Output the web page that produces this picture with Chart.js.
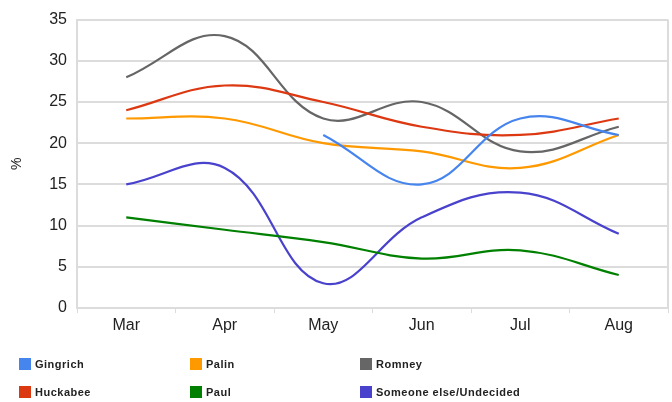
<!DOCTYPE html>
<html>
<head>
<meta charset="utf-8">
<script src="https://cdn.jsdelivr.net/npm/chart.js@4/dist/chart.umd.min.js"></script>
<style>
  html,body{margin:0;padding:0;background:#fff;}
  #wrap{position:relative;width:672px;height:402px;}
  canvas{position:absolute;left:0;top:0;}
  .lg{position:absolute;font-family:"Liberation Sans",Arial,sans-serif;font-size:11px;font-weight:bold;letter-spacing:0.5px;color:#222;white-space:nowrap;line-height:13px;}
  .lg span.sw{display:inline-block;width:12px;height:12px;vertical-align:top;margin-right:4px;}
</style>
</head>
<body>
<div id="wrap">
<canvas id="c" width="672" height="402"></canvas>
</div>
<script>
const months = ["Mar", "Apr", "May", "Jun", "Jul", "Aug"];
const gingrich = [null, null, 21, 15, 23, 21];
const huckabee = [24, 27, 25, 22, 21, 23];
const palin = [23, 23, 20, 19, 17, 21];
const paul = [11, 9.5, 8, 6, 7, 4];
const romney = [28, 33, 23, 25, 19, 22];
const someoneElse = [15, 17, 3, 11, 14, 9];
const yTicks = [0, 5, 10, 15, 20, 25, 30, 35];

const series = [
  {label: "Gingrich", data: gingrich, color: "#4684ee"},
  {label: "Huckabee", data: huckabee, color: "#dc3912"},
  {label: "Palin", data: palin, color: "#ff9900"},
  {label: "Paul", data: paul, color: "#008000"},
  {label: "Romney", data: romney, color: "#666666"},
  {label: "Someone else/Undecided", data: someoneElse, color: "#4942cc"}
];

const legendOrder = [
  ["Gingrich", 19, 358], ["Palin", 190, 358], ["Romney", 360, 358],
  ["Huckabee", 19, 386], ["Paul", 190, 386], ["Someone else/Undecided", 360, 386]
];

const borderPlugin = {
  id: 'sideBorders',
  afterDraw(chart) {
    const a = chart.chartArea, ctx = chart.ctx;
    ctx.save();
    ctx.strokeStyle = '#dcdcdc';
    ctx.lineWidth = 2;
    ctx.beginPath();
    ctx.moveTo(a.right, a.top); ctx.lineTo(a.right, a.bottom);
    ctx.stroke();
    ctx.restore();
  }
};

new Chart(document.getElementById('c'), {
  type: 'line',
  data: {
    labels: months,
    datasets: series.map(s => ({
      label: s.label,
      data: s.data,
      borderColor: s.color,
      backgroundColor: s.color,
      borderWidth: 2.2,
      pointRadius: 0,
      tension: 0.4,
      fill: false
    }))
  },
  options: {
    responsive: false,
    animation: false,
    layout: {padding: {left: 0, right: 4, top: 19, bottom: 64}},
    plugins: {legend: {display: false}, tooltip: {enabled: false}},
    scales: {
      x: {
        offset: true,
        grid: {display: true, drawOnChartArea: false, offset: true, color: '#dcdcdc', lineWidth: 1, tickLength: 5},
        border: {display: true, color: '#dcdcdc', width: 2},
        ticks: {color: '#222', font: {family: '"Liberation Sans", Arial, sans-serif', size: 16}, padding: 3, maxRotation: 0},
        afterFit(scale) { scale.height = 30; }
      },
      y: {
        min: 0, max: 35,
        afterBuildTicks(scale) { scale.ticks = yTicks.map(v => ({value: v})); },
        grid: {color: '#dcdcdc', lineWidth: 2, tickLength: 0},
        border: {display: true, color: '#dcdcdc', width: 2},
        ticks: {color: '#222', font: {family: '"Liberation Sans", Arial, sans-serif', size: 16}, padding: 10},
        title: {display: true, text: '%', color: '#222', font: {family: '"Liberation Sans", Arial, sans-serif', size: 14}, padding: {top: 9, bottom: 0}},
        afterFit(scale) { scale.width = 77; }
      }
    }
  },
  plugins: [borderPlugin]
});

const wrap = document.getElementById('wrap');
legendOrder.forEach(([name, x, y]) => {
  const s = series.find(q => q.label === name);
  const d = document.createElement('div');
  d.className = 'lg';
  d.style.left = x + 'px';
  d.style.top = y + 'px';
  const sw = document.createElement('span');
  sw.className = 'sw';
  sw.style.background = s.color;
  d.appendChild(sw);
  d.appendChild(document.createTextNode(name));
  wrap.appendChild(d);
});
</script>
</body>
</html>
